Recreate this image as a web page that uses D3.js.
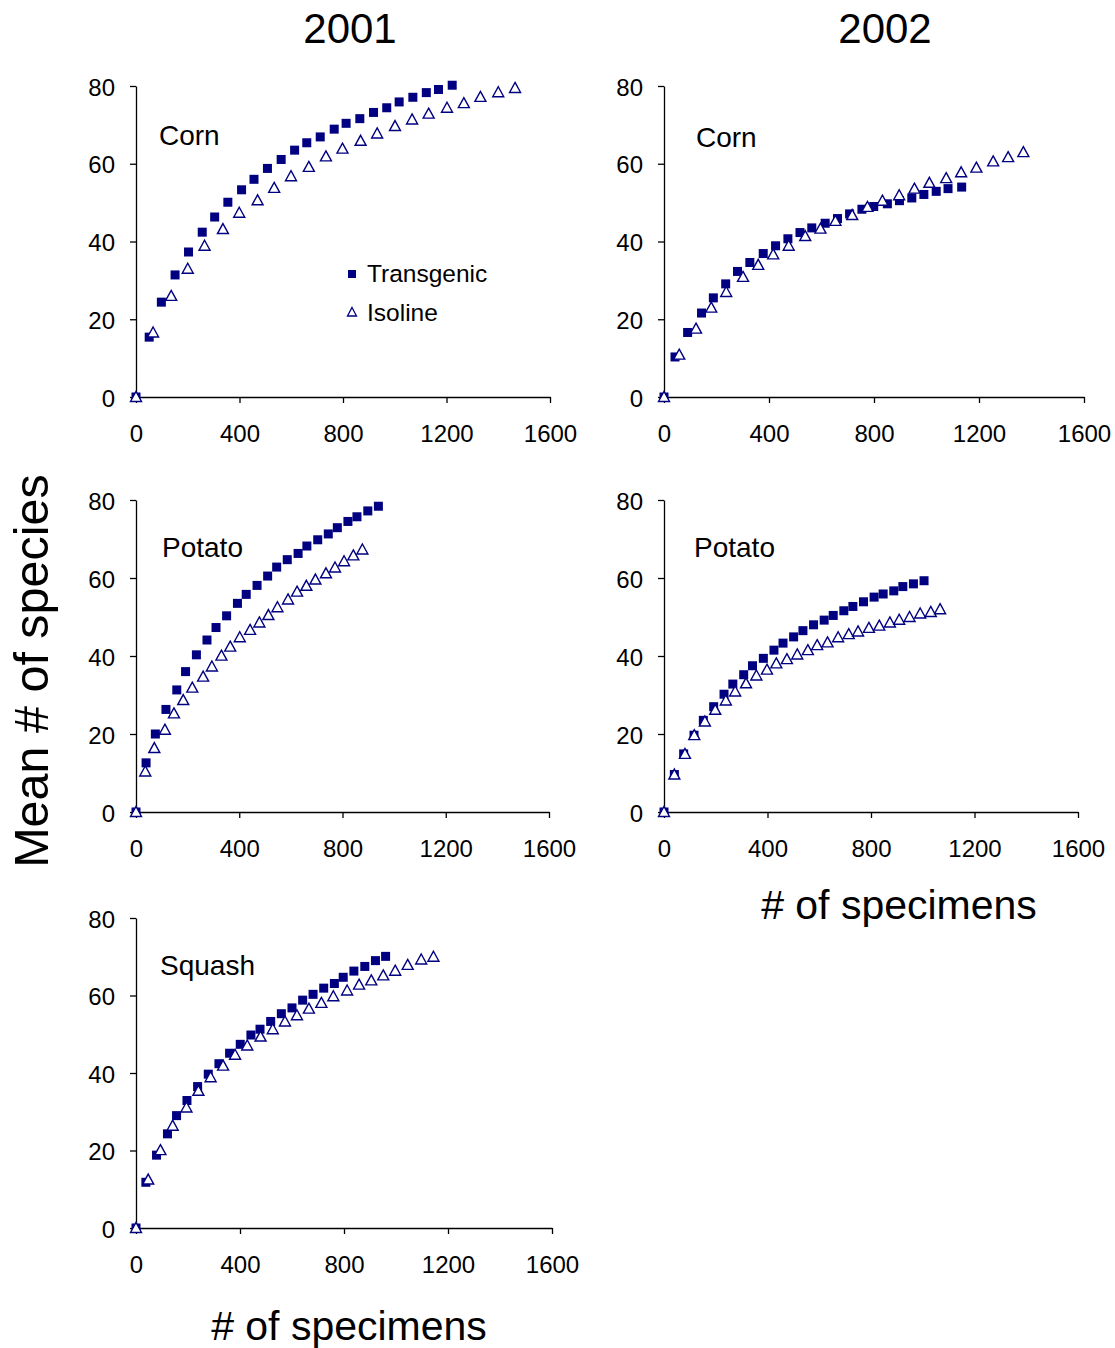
<!DOCTYPE html>
<html>
<head>
<meta charset="utf-8">
<script src="https://cdn.jsdelivr.net/npm/d3@7"></script>
<style>
  body { margin: 0; background: #fff; }
  text { font-family: "Liberation Sans", Arial, sans-serif; fill: #000; }
  .axis path, .axis line { stroke: #000; stroke-width: 1.3; }
  .axis text { font-size: 24px; }
</style>
</head>
<body>
<svg width="1115" height="1348"></svg>
<script>
// values: [specimens, mean species]
let corn2001Transgenic = [[0,0],[51,15.4],[98,24.4],[151,31.4],[203,37.3],[256,42.4],[304,46.3],[355,50.1],[408,53.3],[456,56.0],[508,58.8],[561,61.1],[613,63.5],[660,65.4],[712,66.9],[766,68.9],[812,70.4],[865,71.6],[918,73.2],[969,74.4],[1017,75.9],[1070,77.1],[1122,78.3],[1169,79.1],[1222,80.2]];
let corn2001Isoline = [[0,0],[66,16.6],[136,26.0],[200,33.0],[265,38.9],[336,43.2],[399,47.4],[470,50.6],[534,53.8],[599,56.8],[668,59.2],[734,61.9],[798,63.9],[868,65.9],[932,67.8],[1001,69.7],[1067,71.4],[1131,72.9],[1202,74.4],[1267,75.6],[1331,77.2],[1400,78.4],[1465,79.5]];

let corn2002Transgenic = [[0,0],[42,10.3],[90,16.6],[143,21.6],[188,25.5],[235,29.1],[280,32.3],[327,34.6],[378,36.9],[425,38.9],[472,40.7],[518,42.3],[563,43.5],[614,44.7],[661,45.9],[707,47.1],[754,48.3],[799,49.0],[851,49.7],[897,50.5],[944,51.2],[990,52.1],[1037,52.9],[1082,53.6],[1134,54.0]];
let corn2002Isoline = [[0,0],[58,10.9],[122,17.6],[180,23.0],[237,27.0],[301,30.9],[359,34.0],[416,36.7],[475,38.9],[538,41.4],[596,43.3],[653,45.3],[717,46.8],[775,48.9],[832,50.5],[896,51.9],[954,53.6],[1011,55.1],[1075,56.3],[1132,57.8],[1190,59.0],[1254,60.6],[1311,61.7],[1369,63.0]];

let potato2001Transgenic = [[0,0],[39,12.6],[75,20.0],[116,26.3],[158,31.3],[192,36.0],[234,40.3],[275,44.1],[310,47.3],[351,50.3],[393,53.5],[427,55.8],[469,58.1],[510,60.5],[545,62.8],[586,64.7],[628,66.3],[662,68.2],[704,69.8],[745,71.3],[780,72.9],[821,74.5],[856,75.7],[898,77.2],[939,78.4]];
let potato2001Isoline = [[0,0],[36,10.4],[71,16.4],[112,21.1],[147,25.3],[183,28.7],[218,31.9],[260,34.7],[294,37.3],[331,40.1],[365,42.4],[402,44.8],[442,46.7],[478,48.6],[513,50.5],[548,52.5],[589,54.5],[624,56.5],[660,58.0],[695,59.6],[736,61.2],[771,62.7],[806,64.3],[842,65.8],[877,67.3]];

let potato2002Transgenic = [[0,0],[40,9.6],[76,14.9],[116,19.7],[152,23.5],[192,27.0],[232,30.2],[266,32.8],[308,35.2],[342,37.5],[384,39.4],[425,41.5],[460,43.3],[501,44.9],[537,46.5],[578,48.0],[619,49.2],[654,50.4],[695,51.6],[730,52.7],[771,53.9],[812,55.1],[847,55.9],[888,56.7],[923,57.8],[964,58.5],[1005,59.3]];
let potato2002Isoline = [[0,0],[40,9.6],[81,14.9],[117,19.7],[158,23.2],[198,26.2],[239,28.6],[275,30.9],[317,33.0],[357,35.0],[398,36.5],[434,38.1],[475,39.2],[515,40.4],[556,41.5],[592,42.8],[632,43.5],[673,44.8],[714,45.6],[750,46.3],[792,47.2],[832,47.8],[873,48.6],[909,49.3],[949,50.0],[990,50.9],[1031,51.3],[1067,52.0]];

let squash2001Transgenic = [[0,0],[38,11.8],[79,18.8],[121,24.3],[156,29.0],[196,32.9],[237,36.5],[278,39.7],[319,42.4],[360,45.1],[401,47.4],[442,49.8],[477,51.3],[518,53.3],[559,55.3],[600,56.8],[641,58.8],[681,60.3],[722,61.9],[763,63.1],[797,64.7],[838,66.3],[880,67.5],[921,69.0],[960,70.1]];
let squash2001Isoline = [[0,0],[47,12.5],[94,20.1],[141,26.4],[194,31.1],[240,35.4],[287,38.9],[335,41.9],[381,44.7],[428,47.1],[479,49.4],[526,51.3],[573,53.3],[619,54.9],[665,56.6],[713,58.1],[759,59.8],[812,61.3],[858,62.8],[905,63.9],[951,65.2],[997,66.4],[1045,67.9],[1097,69.3],[1144,70.0]];

let xTicks = [0, 400, 800, 1200, 1600];
let yTicks = [0, 20, 40, 60, 80];
let years = ['2001', '2002'];
let seriesNames = ['Transgenic', 'Isoline'];

let navy = '#000080';

// panel frames in pixels: left, right (x=1600), top (y=80), bottom (y=0)
let panels = [
  { crop: 'Corn', trans: corn2001Transgenic, iso: corn2001Isoline, l: 136, r: 550, t: 86, b: 397, lx: 159, ly: 145, legend: true },
  { crop: 'Corn', trans: corn2002Transgenic, iso: corn2002Isoline, l: 664, r: 1084, t: 86, b: 397, lx: 696, ly: 147 },
  { crop: 'Potato', trans: potato2001Transgenic, iso: potato2001Isoline, l: 136, r: 549, t: 500, b: 812, lx: 162, ly: 557 },
  { crop: 'Potato', trans: potato2002Transgenic, iso: potato2002Isoline, l: 664, r: 1078, t: 500, b: 812, lx: 694, ly: 557 },
  { crop: 'Squash', trans: squash2001Transgenic, iso: squash2001Isoline, l: 136, r: 552, t: 918, b: 1228, lx: 160, ly: 975 }
];

let svg = d3.select('svg');

let trianglePath = 'M0,-5.5L5.5,4.5L-5.5,4.5Z';

panels.forEach(p => {
  let x = d3.scaleLinear().domain([0, 1600]).range([p.l, p.r]);
  let y = d3.scaleLinear().domain([0, 80]).range([p.b, p.t]);
  let g = svg.append('g');

  g.append('g')
    .attr('class', 'axis')
    .attr('transform', translate(0, p.b))
    .call(d3.axisBottom(x).tickValues(xTicks).tickSize(6).tickSizeOuter(0).tickPadding(22).tickFormat(d3.format('d')))
    .call(a => a.selectAll('text').attr('font-family', null).attr('font-size', null));

  g.append('g')
    .attr('class', 'axis')
    .attr('transform', translate(p.l, 0))
    .call(d3.axisLeft(y).tickValues(yTicks).tickSize(6).tickSizeOuter(0).tickPadding(15))
    .call(a => a.selectAll('text').attr('font-family', null).attr('font-size', null).attr('dy', '0.38em'));

  g.selectAll('rect.trans')
    .data(p.trans)
    .enter()
    .append('rect')
    .attr('class', 'trans')
    .attr('x', d => x(d[0]) - 4.5)
    .attr('y', d => y(d[1]) - 4.5)
    .attr('width', 9)
    .attr('height', 9)
    .attr('fill', navy);

  g.selectAll('path.iso')
    .data(p.iso)
    .enter()
    .append('path')
    .attr('class', 'iso')
    .attr('d', trianglePath)
    .attr('transform', d => translate(x(d[0]), y(d[1])))
    .attr('fill', '#fff')
    .attr('stroke', navy)
    .attr('stroke-width', 1.4);

  g.append('text')
    .attr('x', p.lx)
    .attr('y', p.ly)
    .style('font-size', '28px')
    .text(p.crop);

  if (p.legend) {
    let lg = g.append('g');
    lg.append('rect')
      .attr('x', 348).attr('y', 270).attr('width', 8).attr('height', 8)
      .attr('fill', navy);
    lg.append('path')
      .attr('d', 'M0,-4.5L4.5,4L-4.5,4Z')
      .attr('transform', translate(352, 312))
      .attr('fill', '#fff').attr('stroke', navy).attr('stroke-width', 1.3);
    lg.selectAll('text')
      .data(seriesNames)
      .enter()
      .append('text')
      .attr('x', 367)
      .attr('y', (d, i) => 282 + i * 39)
      .style('font-size', '24.5px')
      .text(d => d);
  }
});

// column titles
svg.selectAll('text.year')
  .data(years)
  .enter()
  .append('text')
  .attr('class', 'year')
  .attr('x', (d, i) => i ? 885 : 350)
  .attr('y', 43)
  .attr('text-anchor', 'middle')
  .style('font-size', '42px')
  .text(d => d);

svg.append('text')
  .attr('transform', translate(48, 671) + ' rotate(-90)')
  .attr('text-anchor', 'middle')
  .style('font-size', '48.5px')
  .text('Mean # of species');

svg.append('text')
  .attr('x', 349)
  .attr('y', 1340)
  .attr('text-anchor', 'middle')
  .style('font-size', '41px')
  .text('# of specimens');

svg.append('text')
  .attr('x', 899)
  .attr('y', 919)
  .attr('text-anchor', 'middle')
  .style('font-size', '41px')
  .text('# of specimens');

function translate(x, y) {
  return `translate(${x},${y})`;
}
</script>
</body>
</html>
